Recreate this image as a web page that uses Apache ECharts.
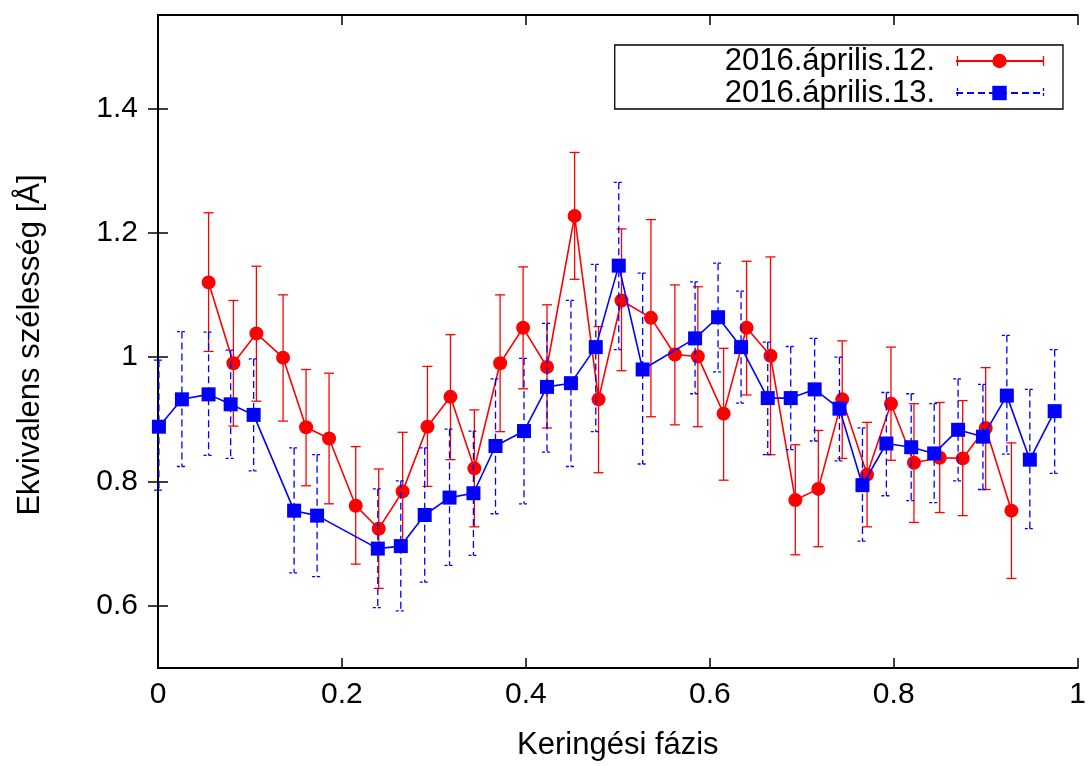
<!DOCTYPE html>
<html>
<head>
<meta charset="utf-8">
<script src="https://cdn.jsdelivr.net/npm/echarts@6/dist/echarts.min.js"></script>
<style>html,body{margin:0;padding:0;background:#fff}#c{width:1089px;height:766px}</style>
</head>
<body>
<div id="c"></div>
<script>
// ---- data ----
const seriesNames = ['2016.április.12.', '2016.április.13.'];
const xTicks = [0, 0.2, 0.4, 0.6, 0.8, 1];
const yTicks = [0.6, 0.8, 1, 1.2, 1.4];

const phase12 = [0.055,0.082,0.107,0.136,0.161,0.186,0.215,0.240,0.266,0.293,0.318,0.344,0.372,0.397,0.423,0.453,0.479,0.504,0.536,0.562,0.587,0.615,0.640,0.666,0.693,0.718,0.744,0.771,0.797,0.822,0.850,0.875,0.900,0.928];
const value12 = [1.120,0.990,1.038,0.999,0.887,0.869,0.761,0.724,0.784,0.888,0.936,0.821,0.990,1.047,0.984,1.227,0.932,1.091,1.063,1.004,1.001,0.909,1.047,1.002,0.770,0.788,0.932,0.811,0.925,0.830,0.838,0.837,0.886,0.753];
const high12  = [1.232,1.091,1.146,1.100,0.980,0.974,0.856,0.820,0.879,0.985,1.036,0.915,1.100,1.145,1.084,1.329,1.049,1.206,1.221,1.116,1.113,1.014,1.154,1.161,0.859,0.882,1.026,0.895,1.016,0.925,0.927,0.930,0.983,0.862];
const low12   = [1.009,0.889,0.929,0.897,0.793,0.764,0.667,0.628,0.689,0.792,0.835,0.727,0.880,0.949,0.886,1.125,0.814,0.978,0.904,0.891,0.888,0.802,0.939,0.843,0.682,0.695,0.837,0.727,0.834,0.734,0.750,0.745,0.787,0.644];

const phase13 = [0.001,0.026,0.055,0.079,0.104,0.148,0.173,0.239,0.264,0.290,0.317,0.343,0.367,0.398,0.423,0.449,0.476,0.501,0.527,0.584,0.609,0.634,0.663,0.688,0.714,0.741,0.766,0.792,0.819,0.844,0.870,0.897,0.923,0.948,0.975];
const value13 = [0.888,0.932,0.940,0.924,0.907,0.753,0.745,0.692,0.696,0.746,0.774,0.781,0.857,0.881,0.952,0.958,1.016,1.147,0.980,1.030,1.064,1.016,0.934,0.934,0.948,0.917,0.794,0.861,0.855,0.845,0.883,0.872,0.938,0.835,0.913];
const high13  = [0.995,1.041,1.040,1.011,0.997,0.854,0.843,0.788,0.801,0.854,0.884,0.881,0.965,0.998,1.054,1.091,1.149,1.281,1.135,1.121,1.151,1.106,1.024,1.017,1.030,1.000,0.886,0.943,0.941,0.925,0.965,0.956,1.035,0.948,1.012];
const low13   = [0.786,0.824,0.842,0.837,0.817,0.653,0.647,0.597,0.592,0.638,0.665,0.681,0.748,0.764,0.847,0.824,0.880,1.012,0.828,0.941,0.976,0.926,0.843,0.851,0.865,0.833,0.704,0.777,0.769,0.766,0.801,0.787,0.844,0.724,0.813];

const RED = '#ff0000', BLUE = '#0000ff';
const FONT = "'Liberation Sans', Arial, Helvetica, sans-serif";

function zip(a, b, c) { return a.map((v, i) => c ? [v, b[i], c[i]] : [v, b[i]]); }

function errRender(color, dashed) {
  return function (params, api) {
    const x = api.value(0), lo = api.value(1), hi = api.value(2);
    const p1 = api.coord([x, hi]);
    const p2 = api.coord([x, lo]);
    const w = 5;
    const st = { stroke: color, lineWidth: 1.3, lineDash: dashed ? [7, 4] : null };
    const cs = { stroke: color, lineWidth: 1.3, lineDash: dashed ? [3, 2] : null };
    return {
      type: 'group',
      children: [
        { type: 'line', shape: { x1: p1[0], y1: p1[1], x2: p2[0], y2: p2[1] }, style: st },
        { type: 'line', shape: { x1: p1[0] - w, y1: p1[1], x2: p1[0] + w, y2: p1[1] }, style: cs },
        { type: 'line', shape: { x1: p2[0] - w, y1: p2[1], x2: p2[0] + w, y2: p2[1] }, style: cs }
      ]
    };
  };
}

const chart = echarts.init(document.getElementById('c'), null, { renderer: 'canvas' });

const axisCommon = {
  axisLine: { show: true, lineStyle: { color: '#000', width: 2 } },
  axisTick: { show: true, inside: true, length: 10, lineStyle: { color: '#000', width: 1.5 } },
  splitLine: { show: false }
};

// legend sample caps (legend box: right edge 1063, icon spans 957..1044)
const capX = [957.5, 1043.5];
const capY = [61, 93];
const legendCaps = [];
capX.forEach(x => capY.forEach((y, i) => legendCaps.push({
  type: 'line', z: 100, shape: { x1: x, y1: y - 5, x2: x, y2: y + 5 },
  style: { stroke: i === 0 ? RED : BLUE, lineWidth: 1.3, lineDash: i === 0 ? null : [3, 2] }
})));

const option = {
  backgroundColor: '#fff',
  animation: false,
  grid: { left: 158, top: 15, right: 8, bottom: 97, containLabel: false },
  xAxis: [
    Object.assign({}, axisCommon, {
      type: 'value', min: 0, max: 1, interval: 0.2, position: 'bottom',
      axisLabel: { show: true, margin: 12, fontSize: 30, fontFamily: FONT, color: '#000' },
      name: 'Keringési fázis', nameLocation: 'middle', nameGap: 62,
      nameTextStyle: { fontSize: 31, fontFamily: FONT, color: '#000' }
    }),
    Object.assign({}, axisCommon, {
      type: 'value', min: 0, max: 1, interval: 0.2, position: 'top',
      axisLabel: { show: false }
    })
  ],
  yAxis: [
    Object.assign({}, axisCommon, {
      type: 'value', min: 0.5, max: 1.55, position: 'left',
      axisTick: Object.assign({}, axisCommon.axisTick, { customValues: yTicks }),
      axisLabel: { show: true, margin: 20, fontSize: 30, fontFamily: FONT, color: '#000', customValues: yTicks }
    }),
    Object.assign({}, axisCommon, {
      type: 'value', min: 0.5, max: 1.55, position: 'right',
      axisTick: Object.assign({}, axisCommon.axisTick, { customValues: yTicks }),
      axisLabel: { show: false, customValues: yTicks }
    })
  ],
  legend: {
    orient: 'vertical', right: 26, top: 45, align: 'right',
    itemWidth: 87, itemHeight: 18, itemGap: 0,
    padding: [0, 19, 0, 110],
    borderColor: '#000', borderWidth: 1.3, backgroundColor: '#fff',
    textStyle: { fontSize: 31, fontFamily: FONT, color: '#000', lineHeight: 32, padding: [0, 16, 0, 0] },
    data: [
      { name: seriesNames[0] },
      { name: seriesNames[1], lineStyle: { type: [7, 4] } }
    ]
  },
  graphic: [
    { type: 'text', z: 10,
      rotation: Math.PI / 2,
      x: 30, y: 345,
      style: { text: 'Ekvivalens szélesség [Å]', font: '31px ' + FONT, fill: '#000', align: 'center', verticalAlign: 'middle' } }
  ].concat(legendCaps),
  series: [
    { name: 'err12', type: 'custom', xAxisIndex: 0, yAxisIndex: 0, z: 1,
      renderItem: errRender(RED, false), data: zip(phase12, low12, high12),
      encode: { x: 0, y: [1, 2] }, silent: true },
    { name: seriesNames[0], type: 'line', z: 2, data: zip(phase12, value12),
      symbol: 'circle', symbolSize: 14, itemStyle: { color: RED },
      lineStyle: { color: RED, width: 1.6 } },
    { name: 'err13', type: 'custom', xAxisIndex: 0, yAxisIndex: 0, z: 3,
      renderItem: errRender(BLUE, true), data: zip(phase13, low13, high13),
      encode: { x: 0, y: [1, 2] }, silent: true },
    { name: seriesNames[1], type: 'line', z: 4, data: zip(phase13, value13),
      symbol: 'rect', symbolSize: 14, itemStyle: { color: BLUE },
      lineStyle: { color: BLUE, width: 1.6 } }
  ]
};
chart.setOption(option);
</script>
</body>
</html>
